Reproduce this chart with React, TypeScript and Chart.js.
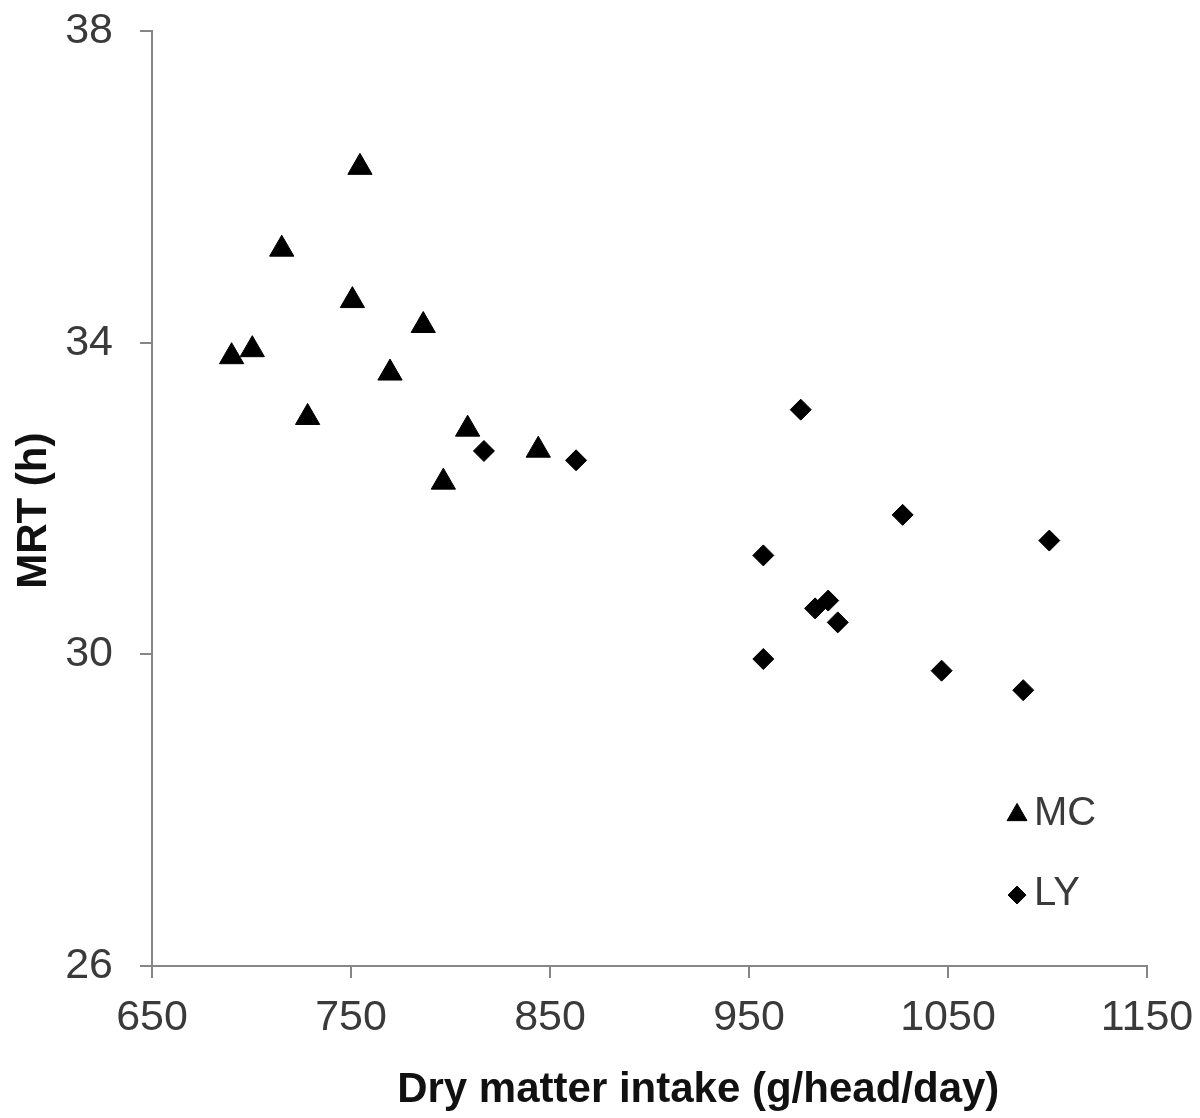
import React, { useEffect, useRef } from 'react';
import { Chart, registerables } from 'chart.js';
import { drawPoint } from 'chart.js/helpers';

Chart.register(...registerables);

// ---- data ----
const seriesLabels = ['MC', 'LY'];
const mcIntake = [754.5, 715.2, 750.7, 786.3, 690.0, 700.4, 769.6, 728.2, 808.6, 844.1, 796.4];
const mcMrt = [36.25, 35.2, 34.54, 34.22, 33.82, 33.91, 33.61, 33.04, 32.89, 32.62, 32.21];
const lyIntake = [816.8, 863.1, 976.0, 1027.2, 1100.9, 957.2, 983.2, 989.8, 994.6, 957.2, 1046.8, 1087.8];
const lyMrt = [32.61, 32.49, 33.14, 31.79, 31.46, 31.27, 30.59, 30.69, 30.41, 29.94, 29.79, 29.54];
const xTicks = [650, 750, 850, 950, 1050, 1150];
const yTicks = [26, 30, 34, 38];
const xTitle = 'Dry matter intake (g/head/day)';
const yTitle = 'MRT (h)';

const FAMILY = "'Liberation Sans', Arial, sans-serif";
const AXIS_COLOR = '#868686';
const TICK_COLOR = '#3a3a3a';

const titlesAndLegend = {
  id: 'titlesAndLegend',
  afterDraw(chart: any) {
    const { ctx, chartArea } = chart;
    const w = chartArea.right - chartArea.left;
    const h = chartArea.bottom - chartArea.top;
    ctx.save();
    // x title
    ctx.fillStyle = '#111';
    ctx.font = `bold 42px ${FAMILY}`;
    ctx.textAlign = 'center';
    ctx.textBaseline = 'alphabetic';
    ctx.fillText(xTitle, chartArea.left + w * 0.549, chartArea.bottom + 136);
    // y title
    ctx.save();
    ctx.translate(46, chartArea.top + h * 0.513);
    ctx.rotate(-Math.PI / 2);
    ctx.fillText(yTitle, 0, 0);
    ctx.restore();
    // legend
    const items = [
      { yf: 0.8384, ds: chart.data.datasets[0], r: 11.5 },
      { yf: 0.9241, ds: chart.data.datasets[1], r: 9 },
    ];
    ctx.font = `40px ${FAMILY}`;
    ctx.textAlign = 'left';
    ctx.textBaseline = 'middle';
    items.forEach((it) => {
      const cx = chartArea.left + w * 0.8694;
      const cy = chartArea.top + h * it.yf;
      ctx.fillStyle = '#000';
      ctx.strokeStyle = '#000';
      ctx.lineWidth = 1;
      drawPoint(ctx, { pointStyle: it.ds.pointStyle, radius: it.r, rotation: 0, borderWidth: 1 }, cx, cy);
      ctx.fillStyle = TICK_COLOR;
      ctx.fillText(it.ds.label, cx + 17, cy - 1);
    });
    ctx.restore();
  },
};

export default function App() {
  const ref = useRef<HTMLCanvasElement | null>(null);

  useEffect(() => {
    if (!ref.current) return;
    const gridCfg = {
      display: true,
      drawOnChartArea: false,
      drawTicks: true,
      tickLength: 12,
      color: AXIS_COLOR,
      lineWidth: 2,
    };
    const borderCfg = { display: true, color: AXIS_COLOR, width: 2 };
    const tickFont = { size: 43, family: FAMILY };
    const chart = new Chart(ref.current, {
      type: 'scatter',
      data: {
        datasets: [
          {
            label: seriesLabels[0],
            data: mcIntake.map((x, i) => ({ x, y: mcMrt[i] })),
            pointStyle: 'triangle',
            pointRadius: 14,
            backgroundColor: '#000',
            borderColor: '#000',
            borderWidth: 1,
          },
          {
            label: seriesLabels[1],
            data: lyIntake.map((x, i) => ({ x, y: lyMrt[i] })),
            pointStyle: 'rectRot',
            pointRadius: 10.5,
            backgroundColor: '#000',
            borderColor: '#000',
            borderWidth: 1,
          },
        ],
      },
      options: {
        animation: false,
        responsive: false,
        devicePixelRatio: 1,
        layout: { padding: { top: 31, right: 53, left: 0, bottom: 0 } },
        plugins: {
          legend: { display: false },
          tooltip: { enabled: false },
        },
        scales: {
          x: {
            type: 'linear',
            min: 650,
            max: 1150,
            afterBuildTicks: (s: any) => {
              s.ticks = xTicks.map((v) => ({ value: v }));
            },
            afterFit: (s: any) => {
              s.height = 152;
              s.paddingLeft = 0;
              s.paddingRight = 0;
              s.paddingTop = 0;
              s.paddingBottom = 0;
            },
            ticks: {
              font: tickFont,
              color: TICK_COLOR,
              padding: 14,
              maxRotation: 0,
              autoSkip: false,
              callback: (v: any) => String(v),
            },
            grid: gridCfg,
            border: borderCfg,
          },
          y: {
            type: 'linear',
            min: 26,
            max: 38,
            afterBuildTicks: (s: any) => {
              s.ticks = yTicks.map((v) => ({ value: v }));
            },
            afterFit: (s: any) => {
              s.width = 152;
              s.paddingLeft = 0;
              s.paddingRight = 0;
              s.paddingTop = 0;
              s.paddingBottom = 0;
            },
            ticks: {
              font: tickFont,
              color: TICK_COLOR,
              padding: 27,
              autoSkip: false,
              callback: (v: any) => String(v),
            },
            grid: gridCfg,
            border: borderCfg,
          },
        },
      },
      plugins: [titlesAndLegend],
    });
    return () => chart.destroy();
  }, []);

  return (
    <div style={{ position: 'fixed', left: 0, top: 0, width: 1200, height: 1118, background: '#fff' }}>
      <canvas ref={ref} width={1200} height={1118} style={{ display: 'block', width: 1200, height: 1118 }} />
    </div>
  );
}
